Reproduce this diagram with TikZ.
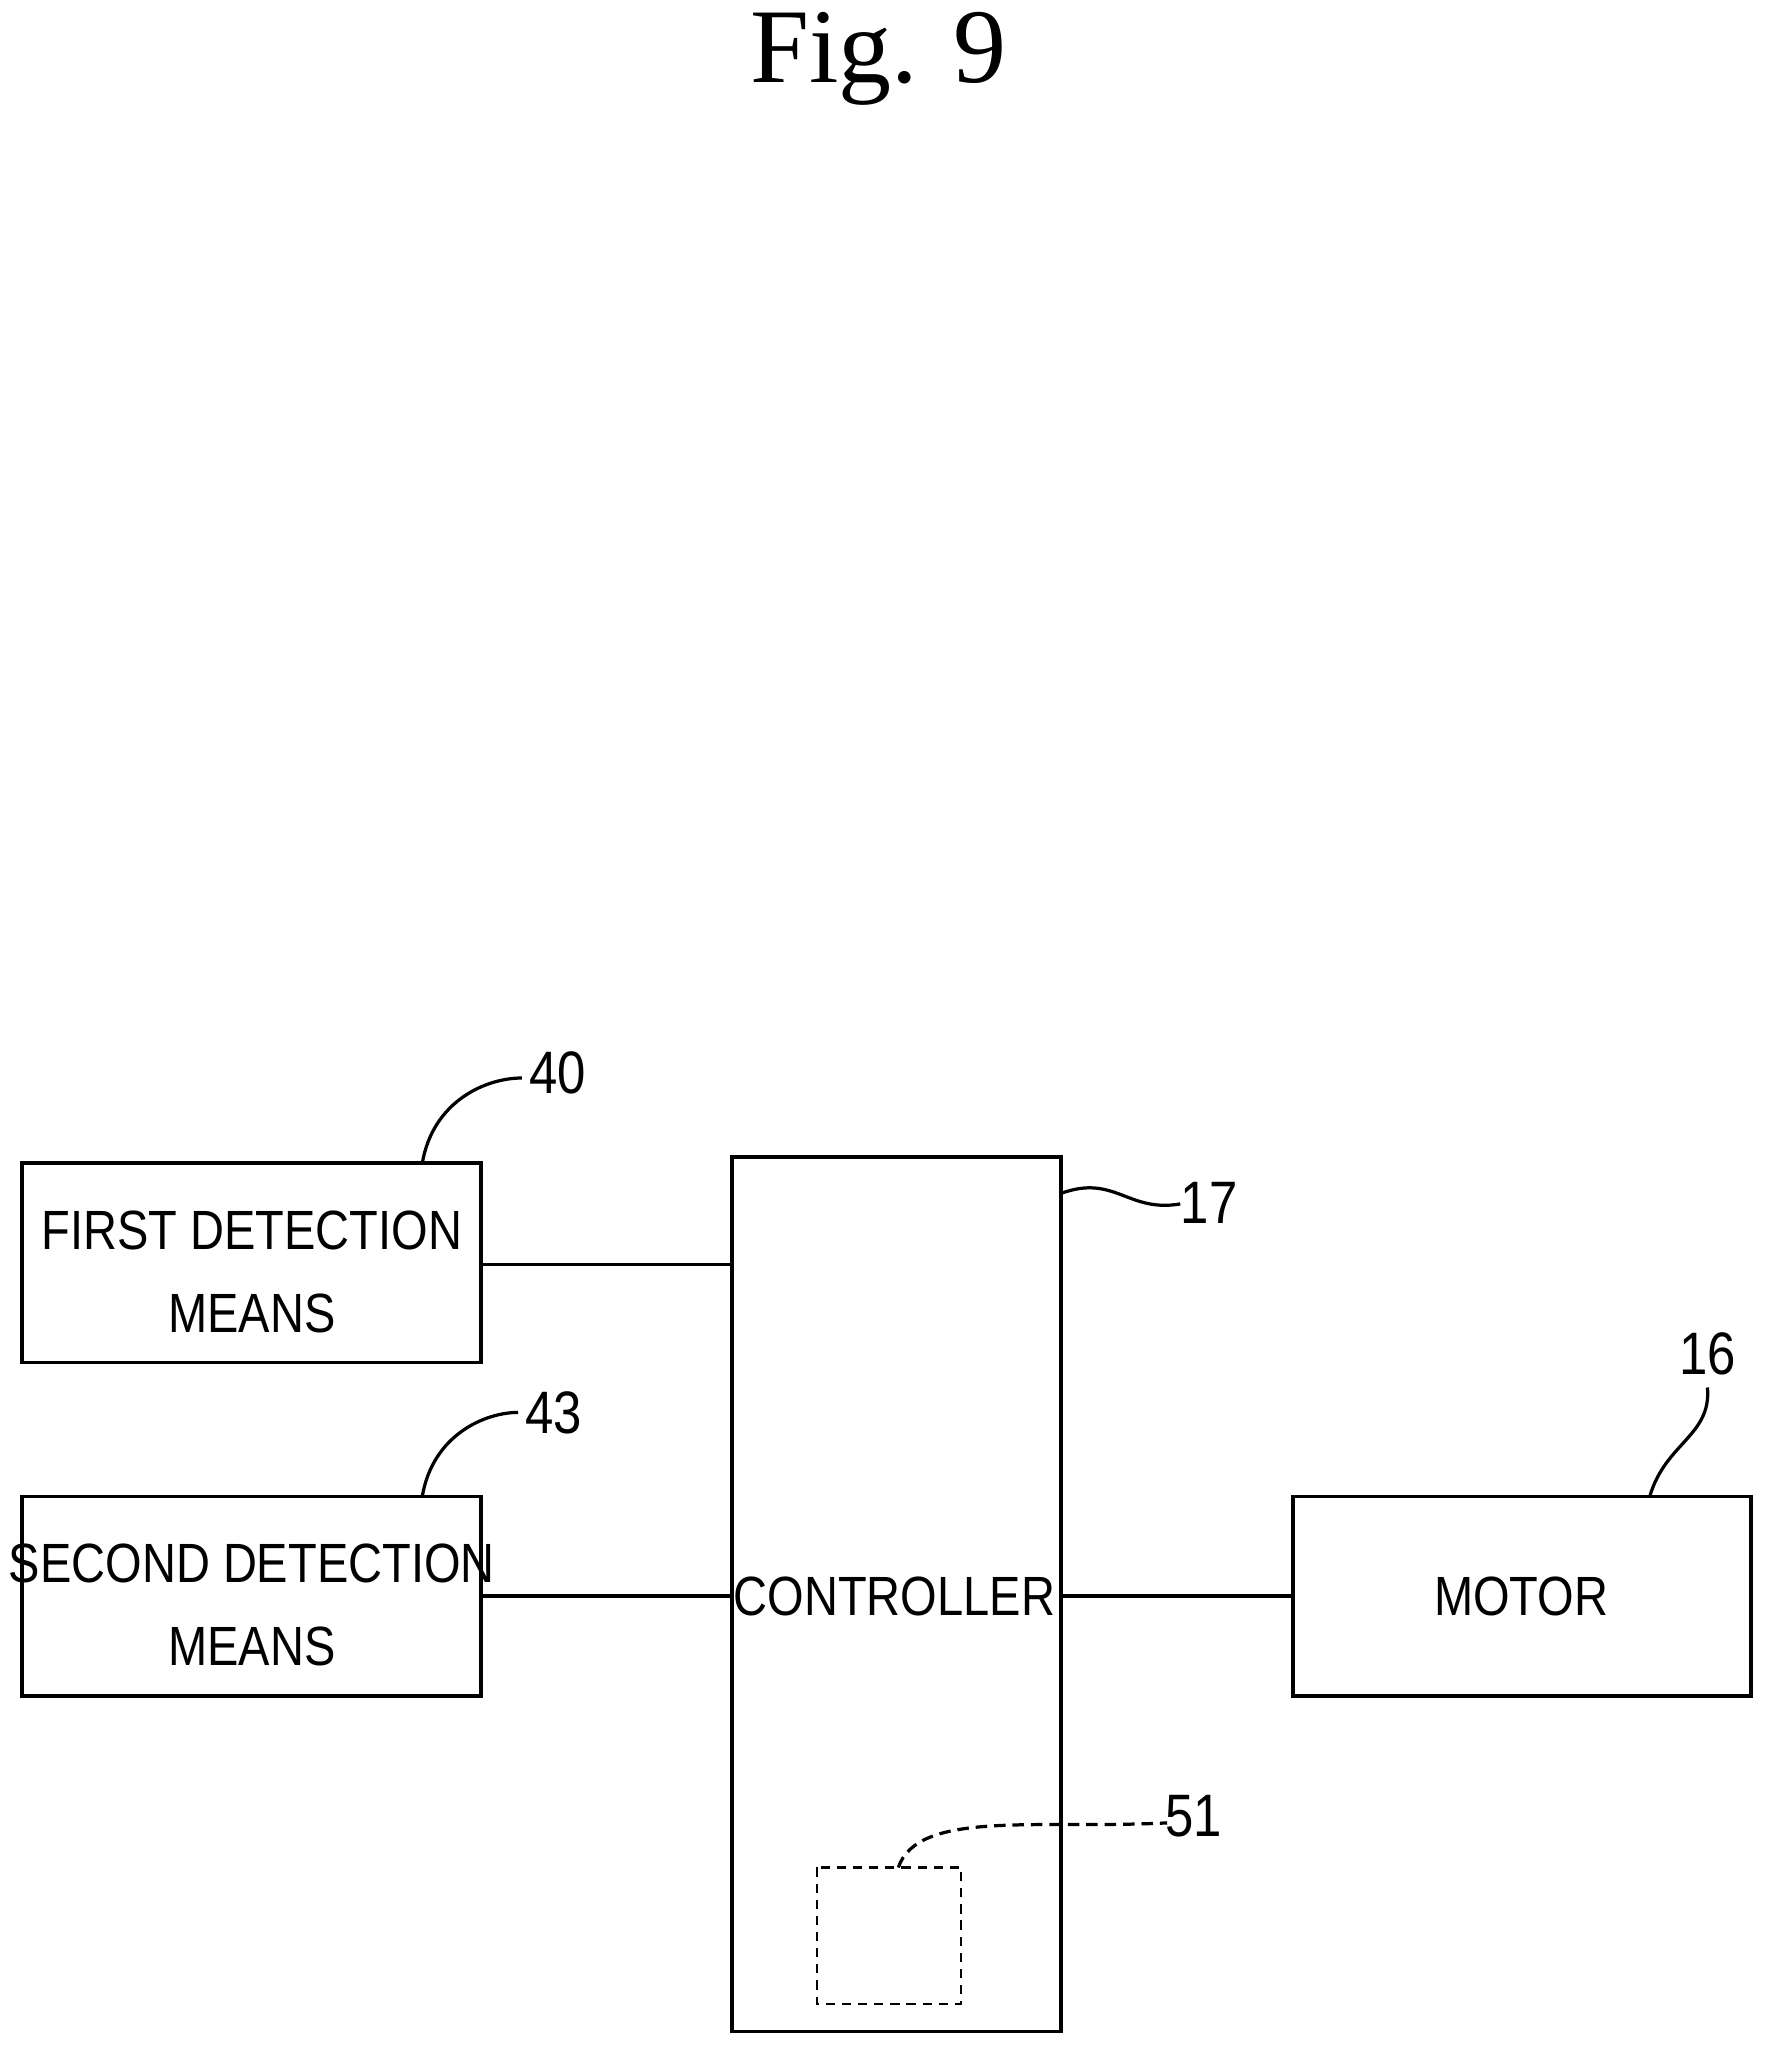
\documentclass[tikz,border=0pt]{standalone}
\usepackage{fontspec}
\setmainfont{Liberation Serif}
\newfontfamily\lab{Liberation Sans}
\begin{document}
\begin{tikzpicture}[x=0.02cm,y=-0.02cm,
 box/.style={draw,line width=1.6pt},
 ln/.style={line width=1.4pt},
 txt/.style={font=\lab\fontsize{24}{36}\selectfont,align=center,inner sep=0,xscale=0.85},
 num/.style={font=\lab\fontsize{26}{30}\selectfont,inner sep=0,xscale=0.85}]
\useasboundingbox (0,0) rectangle (1352,1567);
\node[font=\fontsize{46}{50}\selectfont] (title) at (670,45) {Fig. 9};
\draw[box] (17,887) rectangle (367,1039);
\coordinate (b1e) at (367,964);
\node[txt] (t1) at (192,970) {FIRST DETECTION\\MEANS};
\draw[box] (17,1141) rectangle (367,1293);
\coordinate (b2e) at (367,1217);
\node[txt] (t2) at (192,1224) {SECOND DETECTION\\MEANS};
\draw[box] (558,882) rectangle (809,1549);
\node[txt] (t3) at (682,1217) {CONTROLLER};
\draw[box] (986,1141) rectangle (1335,1293);
\node[txt] (t4) at (1160,1217) {MOTOR};
\coordinate (c1) at (558,964); \coordinate (c2) at (558,1217);
\coordinate (c3) at (809,1217); \coordinate (m1) at (986,1217);
\draw[ln] (b1e) -- (c1); \draw[ln] (b2e) -- (c2); \draw[ln] (c3) -- (m1);
\draw[line width=1pt,dash pattern=on 4pt off 3pt] (623,1424) rectangle (733,1528);
\node[num] (n40) at (425,818) {40};
\node[num] (n43) at (422,1077) {43};
\node[num] (n17) at (922,917) {17};
\node[num] (n16) at (1302,1032) {16};
\node[num] (n51) at (910,1385) {51};
\draw[ln] (322,887) .. controls (330,840) and (370,822) .. (398,822);
\draw[ln] (322,1141) .. controls (330,1094) and (370,1077) .. (395,1077);
\draw[ln] (809,910) .. controls (850,895) and (860,925) .. (900,918);
\draw[ln] (1258,1141) .. controls (1270,1100) and (1305,1095) .. (1302,1058);
\draw[line width=1.4pt,dash pattern=on 5pt off 3pt] (685,1424) .. controls (700,1380) and (790,1395) .. (890,1390);
\end{tikzpicture}
\end{document}
